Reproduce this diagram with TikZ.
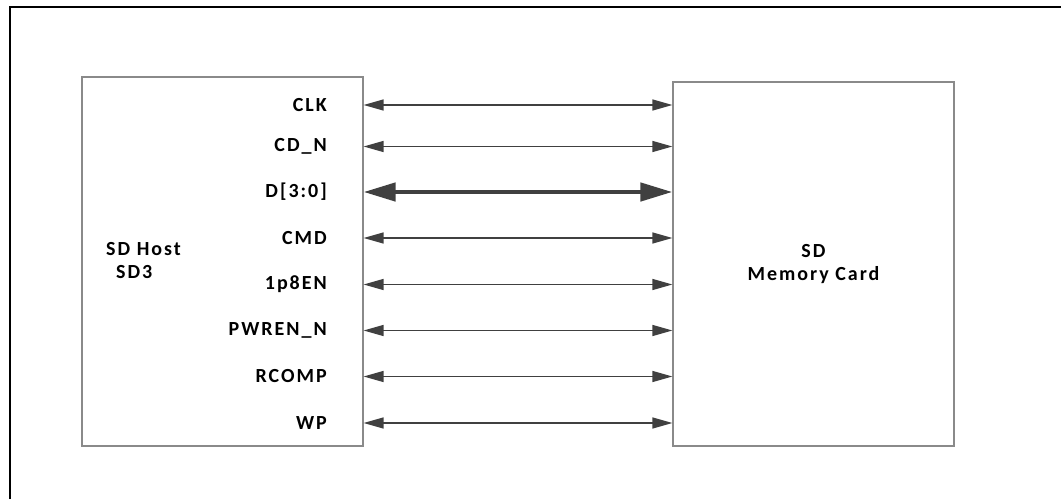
\documentclass[tikz,border=0pt]{standalone}
\usepackage{fontspec}
\usepackage{tikz}
\usetikzlibrary{arrows.meta}
\newfontfamily\lblfont[LetterSpace=10]{Carlito}

\definecolor{boxgray}{HTML}{8A8A8A}
\definecolor{sigdark}{HTML}{404040}

\tikzset{
  blk/.style={draw=boxgray, line width=1.2pt, minimum width=281pt, inner sep=0pt},
  pin/.style={anchor=east, inner sep=0pt, font=\lblfont\bfseries\fontsize{20}{23}\selectfont},
  sig/.style={draw=sigdark, line width=1.4pt, {Triangle[length=20pt,width=11pt]}-{Triangle[length=20pt,width=11pt]}, sigdark},
  bus/.style={draw=sigdark, line width=4.5pt, {Triangle[length=32pt,width=18pt]}-{Triangle[length=32pt,width=18pt]}, sigdark}
}

\begin{document}
\begin{tikzpicture}[x=1pt,y=-1pt]
\useasboundingbox (0,0) rectangle (1061,499);
\draw[line width=2.2pt] (10,499) -- (10,7) -- (1061,7);

\node(host)[blk, minimum height=369pt] at (222.5,261.5) {};
\node(card)[blk, minimum height=364pt] at (813.5,264) {};

\node(hostlbl)[anchor=west, align=left, inner sep=0pt, font=\lblfont\bfseries\fontsize{20}{23}\selectfont] at (106,261) {SD Host\\\hspace{10pt}SD3};
\node(cardlbl)[align=center, inner sep=0pt, font=\lblfont\bfseries\fontsize{20}{23}\selectfont] at (card.center) {SD\\Memory Card};

\node(clk)[pin] at (327,105) {CLK};
\node(cdn)[pin] at (327,146.5) {CD\_N};
\node(dat)[pin] at (327,192) {D[3:0]};
\node(cmd)[pin] at (327,238) {CMD};
\node(pen)[pin] at (327,284.5) {1p8EN};
\node(pwr)[pin] at (327,330.5) {PWREN\_N};
\node(rcp)[pin] at (327,376.5) {RCOMP};
\node(wpr)[pin] at (327,423) {WP};

\draw[sig] (host.east |- clk) -- (card.west |- clk);
\draw[sig] (host.east |- cdn) -- (card.west |- cdn);
\draw[bus] (host.east |- dat) -- (card.west |- dat);
\draw[sig] (host.east |- cmd) -- (card.west |- cmd);
\draw[sig] (host.east |- pen) -- (card.west |- pen);
\draw[sig] (host.east |- pwr) -- (card.west |- pwr);
\draw[sig] (host.east |- rcp) -- (card.west |- rcp);
\draw[sig] (host.east |- wpr) -- (card.west |- wpr);
\end{tikzpicture}
\end{document}
